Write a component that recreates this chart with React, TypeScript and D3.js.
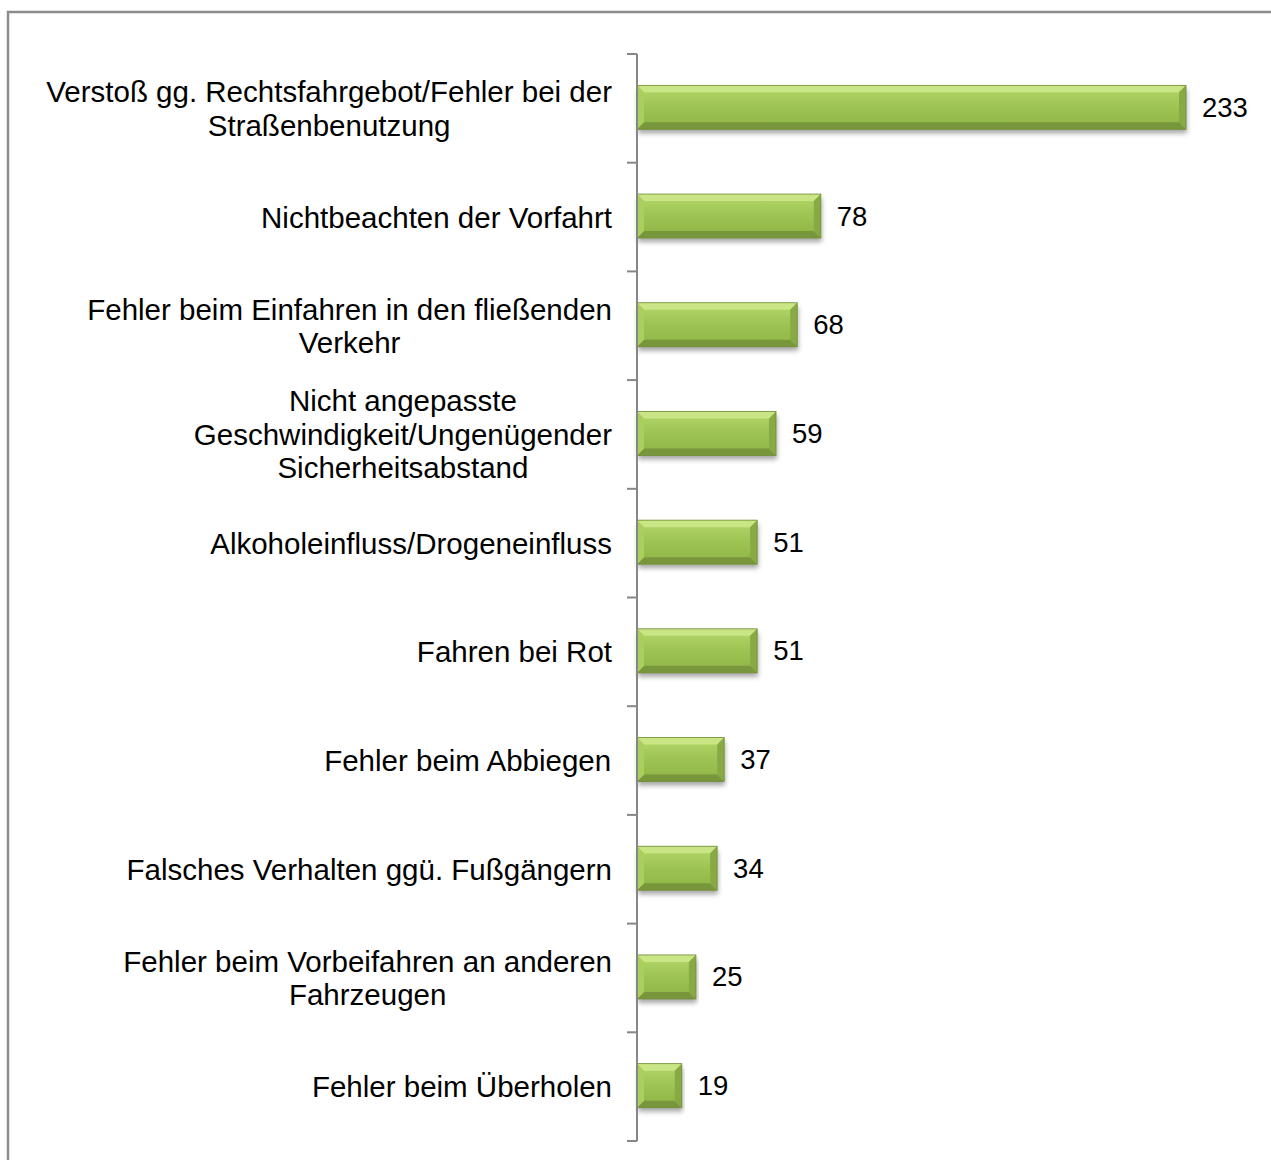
import React from "react";
import * as d3 from "d3";

const categories: string[][] = [
  ["Verstoß gg. Rechtsfahrgebot/Fehler bei der", "Straßenbenutzung"],
  ["Nichtbeachten der Vorfahrt"],
  ["Fehler beim Einfahren in den fließenden", "Verkehr"],
  ["Nicht angepasste", "Geschwindigkeit/Ungenügender", "Sicherheitsabstand"],
  ["Alkoholeinfluss/Drogeneinfluss"],
  ["Fahren bei Rot"],
  ["Fehler beim Abbiegen"],
  ["Falsches Verhalten ggü. Fußgängern"],
  ["Fehler beim Vorbeifahren an anderen", "Fahrzeugen"],
  ["Fehler beim Überholen"],
];
const values: number[] = [233, 78, 68, 59, 51, 51, 37, 34, 25, 19];

const W = 1271;
const H = 1160;
const FONT = '"Liberation Sans", Arial, Helvetica, sans-serif';
const FS = 29.5;
const VFS = 27.5;
const LH = 33.5;

function measure(s: string): number {
  const c = document.createElement("canvas").getContext("2d");
  if (!c) return s.length * FS * 0.5;
  c.font = `${FS}px ${FONT}`;
  return c.measureText(s).width;
}

export default function App() {
  const axisX = 637;
  const top = 54;
  const bottom = 1141;
  const idx = values.map((_, i) => String(i));
  const y = d3.scaleBand<string>().domain(idx).range([top, bottom]).paddingInner(0).paddingOuter(0);
  const x = d3.scaleLinear().domain([0, 233]).range([axisX, 1186]);
  const bh = 44;
  const labelRight = 612;
  const bev = 7;

  const ticks = d3.range(values.length + 1).map((i) => top + i * y.bandwidth());

  return (
    <svg
      width={W}
      height={H}
      style={{ position: "absolute", left: 0, top: 0, display: "block", background: "#fff" }}
      fontFamily={FONT}
    >
      <defs>
        <linearGradient id="body" x1="0" y1="0" x2="0" y2="1">
          <stop offset="0" stopColor="#b5d86a" />
          <stop offset="0.5" stopColor="#9dc353" />
          <stop offset="1" stopColor="#8fb446" />
        </linearGradient>
        <filter id="shadow" x="-5%" y="-20%" width="110%" height="160%">
          <feGaussianBlur in="SourceAlpha" stdDeviation="2.5" />
          <feOffset dx="1" dy="4" result="b" />
          <feComponentTransfer>
            <feFuncA type="linear" slope="0.35" />
          </feComponentTransfer>
          <feMerge>
            <feMergeNode />
            <feMergeNode in="SourceGraphic" />
          </feMerge>
        </filter>
      </defs>
      <rect x={8} y={12} width={W + 20} height={H + 20} fill="none" stroke="#8c8c8c" strokeWidth={2.5} />

      {values.map((v, i) => {
        const cy = (y(String(i)) as number) + y.bandwidth() / 2 - 1;
        const x0 = x(0);
        const x1 = x(v);
        const y0 = cy - bh / 2;
        const y1 = cy + bh / 2;
        const b = Math.min(bev, (x1 - x0) / 2);
        return (
          <g key={i}>
            <g filter="url(#shadow)">
              <rect x={x0} y={y0} width={x1 - x0} height={bh} fill="url(#body)" />
            </g>
            <polygon points={`${x0},${y0} ${x1},${y0} ${x1 - b},${y0 + b} ${x0 + b},${y0 + b}`} fill="#c9e585" />
            <polygon points={`${x0},${y1} ${x1},${y1} ${x1 - b},${y1 - b} ${x0 + b},${y1 - b}`} fill="#78963c" />
            <polygon points={`${x0},${y0} ${x0 + b},${y0 + b} ${x0 + b},${y1 - b} ${x0},${y1}`} fill="#a9cf5e" />
            <polygon points={`${x1},${y0} ${x1 - b},${y0 + b} ${x1 - b},${y1 - b} ${x1},${y1}`} fill="#88aa44" />
            <rect x={x0} y={y0} width={x1 - x0} height={bh} fill="none" stroke="#6f8c36" strokeWidth={0.8} />
            <text x={x1 + 16} y={cy} dominantBaseline="central" fontSize={VFS} fill="#000">
              {v}
            </text>
          </g>
        );
      })}

      <line x1={axisX} x2={axisX} y1={top} y2={bottom} stroke="#878787" strokeWidth={2} />
      {ticks.map((t, i) => (
        <line key={i} x1={axisX - 10} x2={axisX} y1={t} y2={t} stroke="#878787" strokeWidth={2} />
      ))}

      {categories.map((lines, i) => {
        const cy = (y(String(i)) as number) + y.bandwidth() / 2;
        const maxW = Math.max(...lines.map(measure));
        const cx = labelRight - maxW / 2;
        const startY = cy - ((lines.length - 1) * LH) / 2;
        return (
          <text key={i} x={cx} textAnchor="middle" fontSize={FS} fill="#000">
            {lines.map((l, j) => (
              <tspan key={j} x={cx} y={startY + j * LH} dominantBaseline="central">
                {l}
              </tspan>
            ))}
          </text>
        );
      })}
    </svg>
  );
}
